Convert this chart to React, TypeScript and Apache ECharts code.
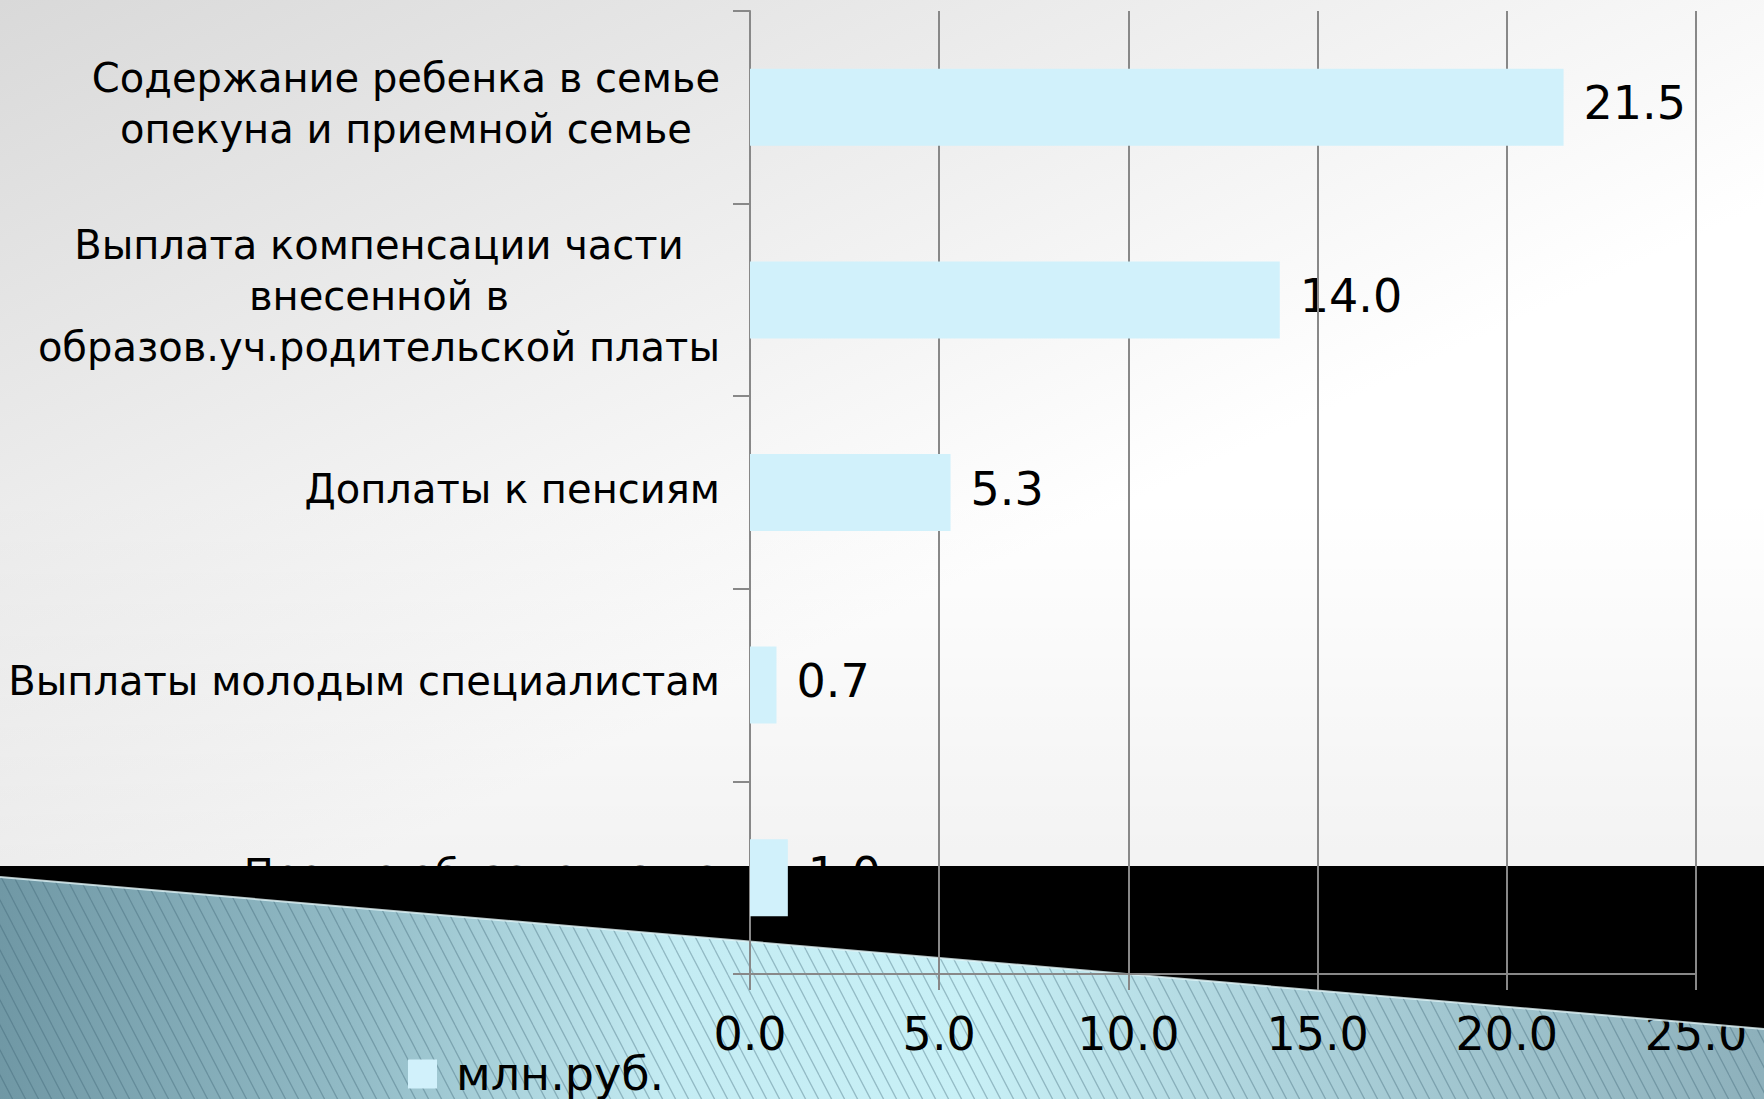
import React, { useEffect, useRef } from "react";
import * as echarts from "echarts";

const categories = [
  "Содержание ребенка в семье\nопекуна и приемной семье",
  "Выплата компенсации части\nвнесенной в\nобразов.уч.родительской платы",
  "Доплаты к пенсиям",
  "Выплаты молодым специалистам",
  "Прочие обязательства",
];
const values = [21.5, 14.0, 5.3, 0.7, 1.0];
const seriesName = "млн.руб.";
const xMin = 0;
const xMax = 25;
const xStep = 5;

const FONT = "'DejaVu Sans', 'Noto Sans', sans-serif";
const W = 1764;
const H = 1099;

const hatchSvg =
  '<svg xmlns="http://www.w3.org/2000/svg" width="13" height="25">' +
  '<path d="M-13 0 L0 25 M0 0 L13 25 M13 0 L26 25" stroke="rgba(55,95,110,0.36)" stroke-width="1.3" fill="none"/>' +
  "</svg>";
const hatchUrl = "data:image/svg+xml;charset=utf-8," + encodeURIComponent(hatchSvg);

export default function App() {
  const ref = useRef<HTMLDivElement>(null);
  useEffect(() => {
    if (!ref.current) return;
    const chart = echarts.init(ref.current, null, { renderer: "svg" });
    const tealPts = [
      [0, 877],
      [W, 1029],
      [W, H],
      [0, H],
    ];
    const blackPts = [
      [0, 866],
      [W, 866],
      [W, 1029],
      [0, 877],
    ];
    chart.setOption({
      animation: false,
      graphic: [
        {
          type: "rect",
          z: 0,
          silent: true,
          shape: { x: 0, y: 0, width: W, height: H },
          style: {
            fill: new echarts.graphic.LinearGradient(0, 0, 0.45, 0.6, [
              { offset: 0, color: "#d9d9d9" },
              { offset: 1, color: "#ffffff" },
            ]),
          },
        },
        {
          type: "rect",
          z: 0,
          silent: true,
          shape: { x: 0, y: 0, width: W, height: H },
          style: {
            fill: new echarts.graphic.LinearGradient(0, 0, 0, 1, [
              { offset: 0, color: "rgba(0,0,0,0)" },
              { offset: 0.45, color: "rgba(0,0,0,0)" },
              { offset: 1, color: "rgba(0,0,0,0.08)" },
            ]),
          },
        },
        {
          type: "polygon",
          z: 2,
          silent: true,
          shape: { points: tealPts },
          style: {
            fill: new echarts.graphic.LinearGradient(0, 0, 1, 0, [
              { offset: 0, color: "#7098a5" },
              { offset: 0.2, color: "#92bbc6" },
              { offset: 0.38, color: "#c4ecf3" },
              { offset: 0.55, color: "#c8f0f6" },
              { offset: 0.72, color: "#add3dc" },
              { offset: 1, color: "#8db0bb" },
            ]),
          },
        },
        {
          type: "polygon",
          z: 2,
          silent: true,
          shape: { points: tealPts },
          style: {
            fill: { image: hatchUrl, repeat: "repeat", imageWidth: 13, imageHeight: 25 } as any,
          },
        },
        {
          type: "polygon",
          z: 4,
          silent: true,
          shape: { points: blackPts },
          style: { fill: "#000000" },
        },
        {
          type: "line",
          z: 4,
          silent: true,
          shape: { x1: 0, y1: 877, x2: W, y2: 1029 },
          style: { stroke: "rgba(225,245,248,0.8)", lineWidth: 2 },
        },
      ],
      grid: {
        left: 750,
        top: 11,
        width: 946,
        height: 963,
        containLabel: false,
        outerBoundsMode: "none",
      },
      legend: {
        data: [seriesName],
        left: 403,
        top: 1046,
        icon: "rect",
        itemWidth: 29,
        itemHeight: 29,
        z: 7,
        textStyle: { fontSize: 46, fontFamily: FONT, color: "#000", padding: [0, 0, 0, 14] },
      },
      xAxis: [
        {
          type: "value",
          position: "bottom",
          min: xMin,
          max: xMax,
          interval: xStep,
          z: 3,
          axisLine: { show: false },
          axisTick: { show: false },
          splitLine: { show: false },
          axisLabel: {
            show: true,
            margin: 37,
            fontSize: 46,
            fontFamily: FONT,
            color: "#000",
            formatter: (v: number) => v.toFixed(1),
          },
        },
        {
          type: "value",
          position: "bottom",
          min: xMin,
          max: xMax,
          interval: xStep,
          z: 5,
          axisLine: { show: true, lineStyle: { color: "#888", width: 2 } },
          axisTick: { show: true, length: 16, lineStyle: { color: "#888", width: 2 } },
          splitLine: { show: true, lineStyle: { color: "#888", width: 2 } },
          axisLabel: { show: false },
        },
      ],
      yAxis: [
        {
          type: "category",
          data: categories,
          inverse: true,
          position: "left",
          z: 1,
          axisLine: { show: false },
          axisTick: { show: false },
          splitLine: { show: false },
          axisLabel: {
            margin: 30,
            align: "right",
            padding: [0, 0, 8, 0],
            formatter: (v: string) =>
              v
                .split("\n")
                .map((l) => `{c|${l}}`)
                .join("\n"),
            rich: {
              c: { align: "center", fontSize: 40, lineHeight: 51, fontFamily: FONT, color: "#000" },
            },
          },
        },
        {
          type: "category",
          data: categories,
          inverse: true,
          position: "left",
          z: 5,
          axisLine: { show: true, lineStyle: { color: "#888", width: 2 } },
          axisTick: { show: true, length: 17, lineStyle: { color: "#888", width: 2 } },
          axisLabel: { show: false },
          splitLine: { show: false },
        },
      ],
      series: [
        {
          name: seriesName,
          type: "bar",
          xAxisIndex: 0,
          yAxisIndex: 0,
          data: values,
          barWidth: "40%",
          barGap: "-100%",
          z: 6,
          itemStyle: { color: "#d1f1fb" },
          label: { show: false },
        },
        {
          name: "labels",
          type: "bar",
          xAxisIndex: 0,
          yAxisIndex: 0,
          data: values,
          barWidth: "40%",
          barGap: "-100%",
          z: 1,
          silent: true,
          itemStyle: { color: "rgba(0,0,0,0)" },
          label: {
            show: true,
            position: "right",
            distance: 20,
            offset: [0, -4],
            fontSize: 46,
            fontFamily: FONT,
            color: "#000",
            formatter: (p: any) => Number(p.value).toFixed(1),
          },
        },
      ],
    });
    return () => chart.dispose();
  }, []);
  return <div ref={ref} style={{ width: W, height: H, position: "absolute", left: 0, top: 0 }} />;
}
